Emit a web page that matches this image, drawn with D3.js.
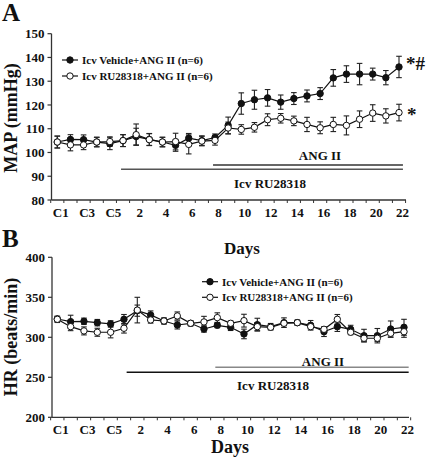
<!DOCTYPE html>
<html><head><meta charset="utf-8">
<script src="https://cdn.jsdelivr.net/npm/d3@7"></script>
<style>body{margin:0;background:#fff}svg{display:block}text{font-family:"Liberation Serif","Times New Roman",serif;font-weight:bold;fill:#111}</style>
</head><body><svg id="c" width="426" height="458"></svg>
<script>
const categories = ["C1","C2","C3","C4","C5","1","2","3","4","5","6","7","8","9","10","11","12","13","14","15","16","17","18","19","20","21","22"];
const tickLabels = ["C1","C3","C5","2","4","6","8","10","12","14","16","18","20","22"];
const seriesNames = ["Icv Vehicle+ANG II (n=6)","Icv RU28318+ANG II (n=6)"];

const mapVehicle = [104.4,105.5,105.4,104.4,103.7,105,106.7,105.5,104.4,103,106,105,106.3,111.4,120.6,122.2,123,121.2,122.7,123.8,124.8,131.4,133,133,133,131.5,136];
const mapVehicleErr = [2.5,2,2,2,2.5,2.5,3.5,2.5,2,2.5,2,2,1.5,3.5,4.5,4,3.5,3,2.5,2.5,2.5,3.5,3.5,4.5,2.5,3,4.5];
const mapRU = [104.4,103.2,103.2,104.4,104.6,105,107.5,105.4,104.4,104.6,103.4,104.8,105.1,110.3,109.7,110.6,113.8,114.4,113.3,111.8,110.4,111.8,111.4,114,116.6,115.4,116.8];
const mapRUErr = [2.5,2.5,2,2,2,2.5,4.5,2.5,2,3.5,4,2,2,2.5,2,2,2.5,2,2,3,2.5,3,4,3.5,3.5,3,3.5];

const hrVehicle = [322.9,319.6,320,318.3,316.7,322.5,333.3,328,320.4,315.4,317.5,310.4,315,312.5,304.2,315.8,313.3,318.3,318.3,315,307,313.3,310,302,302,310.4,312.5];
const hrVehicleErr = [3,8,4,4,4,6,7,5,4,5,3,4,3,4,6,8,4,6,3,6,6,6,5,8,9,10,10];
const hrRU = [322.5,313.3,308,306.3,306.3,311.3,334,321.7,320.4,326.7,317.5,319.2,324.6,317.5,320.8,313.3,312.5,317.5,318.3,313.3,310,322.5,306.3,298.8,298.8,305,307];
const hrRUErr = [4,5,5,5,7,6,16,4,3,5,3,7,6,3,8,5,3,3,3,3,3,6,3,4,4,5,7];

const mapTicks = [80,90,100,110,120,130,140,150];
const hrTicks = [200,250,300,350,400];

// treatment bars in category-index units [start, end]
const angIIBar = [11.85, 26.3];
const ruBar = [4.85, 26.3];

const svg = d3.select("#c");

function panel(o){
  const idx = d3.range(categories.length);
  const x = d3.scalePoint().domain(idx).range(o.xr);
  const xl = d3.scaleLinear().domain([0, categories.length-1]).range(o.xr);
  const y = d3.scaleLinear().domain(o.yd).range(o.yr);
  const g = svg.append("g");
  g.append("line").attr("x1",o.ax0).attr("x2",o.ax0).attr("y1",y(o.yd[0])).attr("y2",y(o.yd[1])).attr("stroke","#333").attr("stroke-width",1.3);
  g.append("line").attr("x1",o.ax0).attr("x2",o.ax1).attr("y1",y(o.yd[0])).attr("y2",y(o.yd[0])).attr("stroke","#333").attr("stroke-width",1.3);
  o.yticks.forEach(t=>{
    g.append("line").attr("x1",o.ax0-4).attr("x2",o.ax0).attr("y1",y(t)).attr("y2",y(t)).attr("stroke","#333").attr("stroke-width",1.2);
    g.append("text").attr("x",o.ax0-7).attr("y",y(t)).attr("dy","0.35em").attr("text-anchor","end").attr("font-size",13).text(t);
  });
  d3.range(categories.length+1).forEach(i=>{
    const xx = xl(i-0.5);
    g.append("line").attr("x1",xx).attr("x2",xx).attr("y1",y(o.yd[0])).attr("y2",y(o.yd[0])+3).attr("stroke","#333").attr("stroke-width",1);
  });
  tickLabels.forEach(lab=>{
    const i = categories.indexOf(lab);
    g.append("text").attr("x",x(i)+3.5).attr("y",y(o.yd[0])+17).attr("text-anchor","middle").attr("font-size",13).text(lab);
  });
  g.append("line").attr("x1",xl(o.angII[0])).attr("x2",xl(o.angII[1])).attr("y1",o.angY).attr("y2",o.angY).attr("stroke",o.angColor).attr("stroke-width",1.4);
  g.append("line").attr("x1",xl(o.ru[0])).attr("x2",xl(o.ru[1])).attr("y1",o.ruY).attr("y2",o.ruY).attr("stroke",o.ruColor).attr("stroke-width",1.4);
  g.append("text").attr("x",o.angTx).attr("y",o.angTy).attr("text-anchor","middle").attr("font-size",13).text("ANG II");
  g.append("text").attr("x",o.ruTx).attr("y",o.ruTy).attr("text-anchor","middle").attr("font-size",13).text("Icv RU28318");
  const series = [{v:o.s1,e:o.e1,fill:"#111"},{v:o.s2,e:o.e2,fill:"#fff"}];
  series.forEach(s=>{
    const line = d3.line().x((d,i)=>x(i)).y(d=>y(d));
    g.append("path").attr("d",line(s.v)).attr("fill","none").attr("stroke","#111").attr("stroke-width",1.2);
  });
  series.forEach(s=>{
    s.v.forEach((v,i)=>{
      const cx = x(i);
      g.append("line").attr("x1",cx).attr("x2",cx).attr("y1",y(v-s.e[i])).attr("y2",y(v+s.e[i])).attr("stroke","#222").attr("stroke-width",1.1);
      [v-s.e[i], v+s.e[i]].forEach(w=>g.append("line").attr("x1",cx-2.8).attr("x2",cx+2.8).attr("y1",y(w)).attr("y2",y(w)).attr("stroke","#222").attr("stroke-width",1.1));
    });
  });
  series.forEach(s=>{
    s.v.forEach((v,i)=>{
      g.append("circle").attr("cx",x(i)).attr("cy",y(v)).attr("r",3.2).attr("fill",s.fill).attr("stroke","#111").attr("stroke-width",1);
    });
  });
  seriesNames.forEach((n,k)=>{
    const ly = o.legY[k];
    g.append("line").attr("x1",o.legX).attr("x2",o.legX+16).attr("y1",ly).attr("y2",ly).attr("stroke","#111").attr("stroke-width",1.2);
    g.append("circle").attr("cx",o.legX+8).attr("cy",ly).attr("r",3.2).attr("fill",series[k].fill).attr("stroke","#111").attr("stroke-width",1);
    g.append("text").attr("x",o.legX+20).attr("y",ly).attr("dy","0.35em").attr("font-size",11).text(n);
  });
  g.append("text").attr("transform",`translate(${o.ylabX},${o.ylabY}) rotate(-90)`).attr("text-anchor","middle").attr("font-size",o.ylabSize).text(o.ylab);
  return {x,y};
}

panel({xr:[57.3,399], ax0:51.5, ax1:406, yd:[80,150], yr:[200,33.7], yticks:mapTicks,
  s1:mapVehicle,e1:mapVehicleErr,s2:mapRU,e2:mapRUErr,
  angII:angIIBar, ru:ruBar, angY:165, ruY:169.3, angColor:"#333", ruColor:"#555",
  angTx:320, angTy:160, ruTx:270, ruTy:188,
  legX:62, legY:[60,76], ylab:"MAP (mmHg)", ylabX:17, ylabY:118, ylabSize:18});
panel({xr:[57.3,404], ax0:52, ax1:409, yd:[200,400], yr:[417.3,257.3], yticks:hrTicks,
  s1:hrVehicle,e1:hrVehicleErr,s2:hrRU,e2:hrRUErr,
  angII:[11.85,26.35], ru:[5.2,26.35], angY:367.3, ruY:372.3, angColor:"#888", ruColor:"#111",
  angTx:323, angTy:366, ruTx:273, ruTy:390,
  legX:202, legY:[281.7,297.3], ylab:"HR (beats/min)", ylabX:17, ylabY:337, ylabSize:18});

svg.append("text").attr("x",406).attr("y",70).attr("font-size",19).text("*#");
svg.append("text").attr("x",407).attr("y",121).attr("font-size",19).text("*");
svg.append("text").attr("x",2).attr("y",21).attr("font-size",25).text("A");
svg.append("text").attr("x",2).attr("y",247).attr("font-size",25).text("B");
svg.append("text").attr("x",242).attr("y",254).attr("text-anchor","middle").attr("font-size",17).text("Days");
svg.append("text").attr("x",230).attr("y",453).attr("text-anchor","middle").attr("font-size",18).text("Days");
</script></body></html>
